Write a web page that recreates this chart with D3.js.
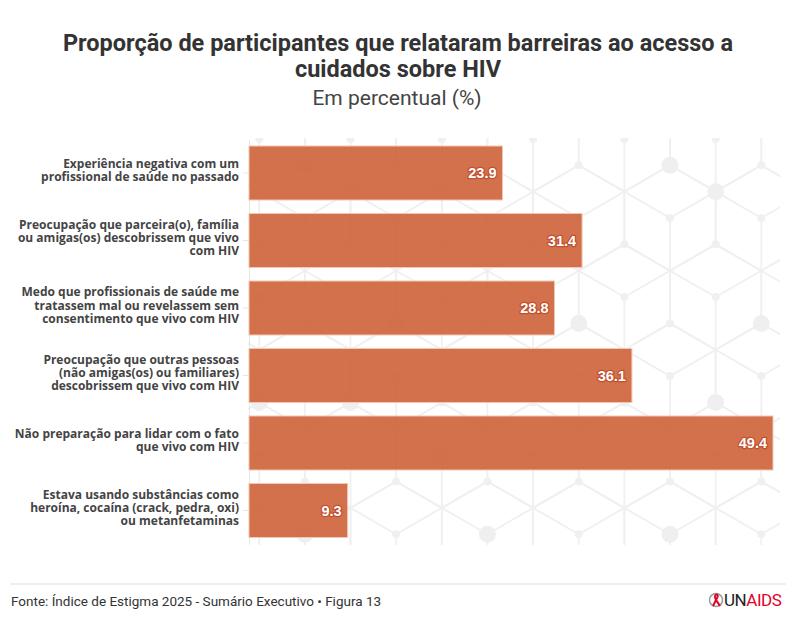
<!DOCTYPE html>
<html>
<head>
<meta charset="utf-8">
<script src="https://cdn.jsdelivr.net/npm/d3@7"></script>
<style>
  body { margin: 0; background: #fff; }
  svg { display: block; }
</style>
</head>
<body>
<svg id="chart" width="794" height="620"></svg>
<script>
const categories = [
  "Experiência negativa com um\nprofissional de saúde no passado",
  "Preocupação que parceira(o), família\nou amigas(os) descobrissem que vivo\ncom HIV",
  "Medo que profissionais de saúde me\ntratassem mal ou revelassem sem\nconsentimento que vivo com HIV",
  "Preocupação que outras pessoas\n(não amigas(os) ou familiares)\ndescobrissem que vivo com HIV",
  "Não preparação para lidar com o fato\nque vivo com HIV",
  "Estava usando substâncias como\nheroína, cocaína (crack, pedra, oxi)\nou metanfetaminas"
];
const values = [23.9, 31.4, 28.8, 36.1, 49.4, 9.3];

const titleLines = ["Proporção de participantes que relataram barreiras ao acesso a", "cuidados sobre HIV"];
const subtitle = "Em percentual (%)";
const source = "Fonte: Índice de Estigma 2025 - Sumário Executivo • Figura 13";

const svg = d3.select("#chart");
const plot = {left: 249, right: 773, top: 139.25, bottom: 544.25};

const x = d3.scaleLinear()
  .domain([0, d3.max(values)])
  .range([plot.left, plot.right]);

const y = d3.scaleBand()
  .domain(categories)
  .range([plot.top, plot.bottom])
  .paddingInner(0.2)
  .paddingOuter(0.1);

// background hex (cube) pattern
const s = 52.7, w = s * Math.sqrt(3), ox = 670, oy = 218;
svg.append("clipPath").attr("id", "patclip")
  .append("rect").attr("x", 248).attr("y", 138).attr("width", 532).attr("height", 407);
const pat = svg.append("g").attr("clip-path", "url(#patclip)");
const segs = [], smallDots = [];
for (let r = -2; r <= 5; r++) {
  for (let k = -6; k <= 3; k++) {
    const cx = ox + (k + (Math.abs(r) % 2 ? 0.5 : 0)) * w, cy = oy + r * 1.5 * s;
    const v = [[cx, cy - s], [cx + w / 2, cy - s / 2], [cx + w / 2, cy + s / 2],
               [cx, cy + s], [cx - w / 2, cy + s / 2], [cx - w / 2, cy - s / 2]];
    for (let i = 0; i < 6; i++) segs.push([v[i], v[(i + 1) % 6]]);
    segs.push([[cx, cy], v[5]], [[cx, cy], v[1]], [[cx, cy], v[3]]);
    smallDots.push([cx, cy], v[0]);
  }
}
const bigNodes = [[0, -2], [1, -1], [-2, 4], [2, 4], [1, 7], [-9, 7], [-7, 7], [-8, -2], [-7, -1],
  [-5, -1], [-6, 4], [-5, 9], [-4, 12], [0, 12], [-8, 12]];
pat.selectAll("line").data(segs).join("line")
  .attr("x1", d => d[0][0]).attr("y1", d => d[0][1])
  .attr("x2", d => d[1][0]).attr("y2", d => d[1][1])
  .attr("stroke", "#f0f0f0").attr("stroke-width", 1.8);
pat.selectAll("circle.sm").data(smallDots).join("circle")
  .attr("class", "sm")
  .attr("cx", d => d[0]).attr("cy", d => d[1]).attr("r", 4)
  .attr("fill", "#f0f0f0");
pat.selectAll("circle.bg").data(bigNodes).join("circle")
  .attr("class", "bg")
  .attr("cx", d => ox + d[0] * w / 2).attr("cy", d => oy + d[1] * s / 2).attr("r", 8.5)
  .attr("fill", "#efefef");

// axis
const yAxis = d3.axisLeft(y).tickSize(6).tickFormat("").tickSizeOuter(0);
const ag = svg.append("g")
  .attr("transform", "translate(" + plot.left + ",0)")
  .call(yAxis);
ag.selectAll("path, line").attr("stroke", "#e6e6e6");

// category labels
const lab = svg.append("g").selectAll("text").data(categories).join("text")
  .attr("text-anchor", "end")
  .attr("font-family", "'Open Sans', sans-serif")
  .attr("font-weight", 700)
  .attr("font-size", 12)
  .attr("fill", "#444");
lab.each(function (d) {
  const lines = d.split("\n");
  const lh = 13.4;
  const c = y(d) + y.bandwidth() / 2 - 3;
  d3.select(this).selectAll("tspan").data(lines).join("tspan")
    .attr("x", 239)
    .attr("y", (l, i) => c + (i - (lines.length - 1) / 2) * lh + 4.5)
    .text(l => l);
});

// bars
svg.append("g").selectAll("rect").data(values).join("rect")
  .attr("x", x(0))
  .attr("y", (d, i) => y(categories[i]))
  .attr("width", d => x(d) - x(0))
  .attr("height", y.bandwidth())
  .attr("fill", "#cd6238")
  .attr("fill-opacity", 0.9)
  .attr("stroke", "#f2c7b6")
  .attr("stroke-width", 1);

// value labels
svg.append("g").selectAll("text").data(values).join("text")
  .attr("x", d => x(d) - 6)
  .attr("y", (d, i) => y(categories[i]) + y.bandwidth() / 2 + 5)
  .attr("text-anchor", "end")
  .attr("font-family", "'Liberation Sans', Arial, sans-serif")
  .attr("font-weight", 700)
  .attr("font-size", 14.5)
  .attr("fill", "#fff")
  .attr("stroke", "#c2502d")
  .attr("stroke-width", 2.5)
  .attr("stroke-linejoin", "round")
  .attr("paint-order", "stroke")
  .text(d => d.toFixed(1));

// titles
svg.append("g").selectAll("text").data(titleLines).join("text")
  .attr("x", 398)
  .attr("y", (d, i) => 51 + i * 26)
  .attr("text-anchor", "middle")
  .attr("font-family", "Roboto, sans-serif")
  .attr("font-weight", 700)
  .attr("font-size", 23.5)
  .attr("fill", "#333")
  .text(d => d);

svg.append("text")
  .attr("x", 397).attr("y", 105)
  .attr("text-anchor", "middle")
  .attr("font-family", "Roboto, sans-serif")
  .attr("font-size", 21)
  .attr("fill", "#444")
  .text(subtitle);

// footer
svg.append("line")
  .attr("x1", 10).attr("x2", 786).attr("y1", 584).attr("y2", 584)
  .attr("stroke", "#dddddd");
svg.append("text")
  .attr("x", 11).attr("y", 606)
  .attr("font-family", "Roboto, sans-serif")
  .attr("font-size", 13.5)
  .attr("fill", "#333")
  .text(source);

// logo
const logo = svg.append("g").attr("transform", "translate(716,600)");
logo.append("circle").attr("r", 6.5).attr("fill", "none").attr("stroke", "#999").attr("stroke-width", 1.5);
logo.append("path")
  .attr("d", "M-3,6 L1,-2 C3,-5 0,-7 -1,-4 C-2,-2 1,1 4,6")
  .attr("fill", "none").attr("stroke", "#e4002b").attr("stroke-width", 2);
const lt = logo.append("text")
  .attr("x", 8).attr("y", 6)
  .attr("font-family", "Roboto, sans-serif")
  .attr("font-size", 17)
  .attr("letter-spacing", -0.5);
lt.append("tspan").attr("fill", "#222").text("UN");
lt.append("tspan").attr("fill", "#e4002b").text("AIDS");
</script>
</body>
</html>
